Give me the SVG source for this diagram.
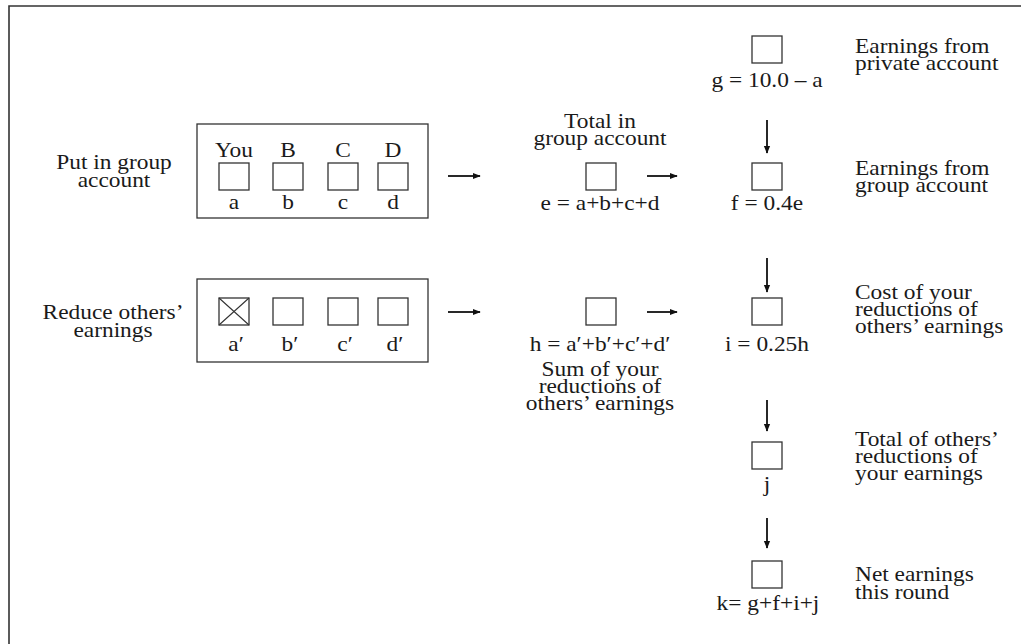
<svg xmlns="http://www.w3.org/2000/svg" width="1021" height="644" viewBox="0 0 1021 644">
<defs>
<style>
text{font-family:"Liberation Serif","Times New Roman",serif;font-size:20px;fill:#1a1a1a}
.m{text-anchor:middle}
.sq{fill:#fff;stroke:#333;stroke-width:1.3}
.box{fill:none;stroke:#333;stroke-width:1.3}
.frame{fill:none;stroke:#333;stroke-width:1.6}
.arr{stroke:#111;stroke-width:1.8;fill:none;marker-end:url(#ah)}
</style>
<marker id="ah" viewBox="0 0 10 10" refX="9" refY="5" markerWidth="4.5" markerHeight="4.5" orient="auto" markerUnits="strokeWidth">
<path d="M0,1 L10,5 L0,9 z" fill="#111"/>
</marker>
</defs>
<rect width="1021" height="644" fill="#fff"/>
<path class="frame" d="M9,644 L9,6 L1021,6"/>

<g id="put-label">
<text class="m" transform="translate(114 169) scale(1.17 1)">Put in group</text>
<text class="m" transform="translate(114 187) scale(1.17 1)">account</text>
</g>
<g id="group-box">
<rect class="box" x="197" y="124" width="231" height="94"/>
<text class="m" transform="translate(234 157) scale(1.17 1)">You</text>
<text class="m" transform="translate(288 157) scale(1.17 1)">B</text>
<text class="m" transform="translate(343 157) scale(1.17 1)">C</text>
<text class="m" transform="translate(393 157) scale(1.17 1)">D</text>
<rect class="sq" x="219" y="163" width="30" height="27"/>
<rect class="sq" x="273" y="163" width="30" height="27"/>
<rect class="sq" x="328" y="163" width="30" height="27"/>
<rect class="sq" x="378" y="163" width="30" height="27"/>
<text class="m" transform="translate(234 209) scale(1.17 1)">a</text>
<text class="m" transform="translate(288 209) scale(1.17 1)">b</text>
<text class="m" transform="translate(343 209) scale(1.17 1)">c</text>
<text class="m" transform="translate(393 209) scale(1.17 1)">d</text>
</g>

<g id="reduce-label">
<text class="m" transform="translate(113 319) scale(1.17 1)">Reduce others’</text>
<text class="m" transform="translate(113 337) scale(1.17 1)">earnings</text>
</g>
<g id="reduce-box">
<rect class="box" x="197" y="279" width="231" height="83"/>
<rect class="sq" x="219" y="298" width="30" height="27"/>
<path d="M219,298 L249,325 M249,298 L219,325" stroke="#333" stroke-width="1.1"/>
<rect class="sq" x="273" y="298" width="30" height="27"/>
<rect class="sq" x="328" y="298" width="30" height="27"/>
<rect class="sq" x="378" y="298" width="30" height="27"/>
<text class="m" transform="translate(236 351) scale(1.17 1)">a′</text>
<text class="m" transform="translate(290 351) scale(1.17 1)">b′</text>
<text class="m" transform="translate(345 351) scale(1.17 1)">c′</text>
<text class="m" transform="translate(395 351) scale(1.17 1)">d′</text>
</g>

<g id="node-e">
<text class="m" transform="translate(600 128) scale(1.17 1)">Total in</text>
<text class="m" transform="translate(600 145) scale(1.17 1)">group account</text>
<rect class="sq" x="586" y="163" width="30" height="27"/>
<text class="m" transform="translate(600 210) scale(1.17 1)">e = a+b+c+d</text>
</g>
<g id="node-h">
<rect class="sq" x="586" y="298" width="30" height="27"/>
<text class="m" transform="translate(600 351) scale(1.17 1)">h = a′+b′+c′+d′</text>
<text class="m" transform="translate(600 376) scale(1.17 1)">Sum of your</text>
<text class="m" transform="translate(600 393) scale(1.17 1)">reductions of</text>
<text class="m" transform="translate(600 410) scale(1.17 1)">others’ earnings</text>
</g>

<g id="node-g">
<rect class="sq" x="752" y="36" width="30" height="27"/>
<text class="m" transform="translate(767 87) scale(1.17 1)">g = 10.0 – a</text>
<text transform="translate(855 53) scale(1.17 1)">Earnings from</text>
<text transform="translate(855 70) scale(1.17 1)">private account</text>
</g>
<g id="node-f">
<rect class="sq" x="752" y="163" width="30" height="27"/>
<text class="m" transform="translate(767 210) scale(1.17 1)">f = 0.4e</text>
<text transform="translate(855 175) scale(1.17 1)">Earnings from</text>
<text transform="translate(855 192) scale(1.17 1)">group account</text>
</g>
<g id="node-i">
<rect class="sq" x="752" y="298" width="30" height="27"/>
<text class="m" transform="translate(767 351) scale(1.17 1)">i = 0.25h</text>
<text transform="translate(855 299) scale(1.17 1)">Cost of your</text>
<text transform="translate(855 316) scale(1.17 1)">reductions of</text>
<text transform="translate(855 333) scale(1.17 1)">others’ earnings</text>
</g>
<g id="node-j">
<rect class="sq" x="752" y="442" width="30" height="27"/>
<text class="m" transform="translate(767 491) scale(1.17 1)">j</text>
<text transform="translate(855 446) scale(1.17 1)">Total of others’</text>
<text transform="translate(855 463) scale(1.17 1)">reductions of</text>
<text transform="translate(855 480) scale(1.17 1)">your earnings</text>
</g>
<g id="node-k">
<rect class="sq" x="752" y="561" width="30" height="27"/>
<text class="m" transform="translate(768 610) scale(1.17 1)">k= g+f+i+j</text>
<text transform="translate(855 581) scale(1.17 1)">Net earnings</text>
<text transform="translate(855 599) scale(1.17 1)">this round</text>
</g>

<g id="connectors">
<line class="arr" x1="448" y1="176" x2="480" y2="176"/>
<line class="arr" x1="448" y1="312" x2="480" y2="312"/>
<line class="arr" x1="647" y1="176" x2="677" y2="176"/>
<line class="arr" x1="647" y1="312" x2="677" y2="312"/>
<line class="arr" x1="767" y1="120" x2="767" y2="153"/>
<line class="arr" x1="767" y1="258" x2="767" y2="292"/>
<line class="arr" x1="767" y1="400" x2="767" y2="431"/>
<line class="arr" x1="767" y1="518" x2="767" y2="548"/>
</g>
</svg>
